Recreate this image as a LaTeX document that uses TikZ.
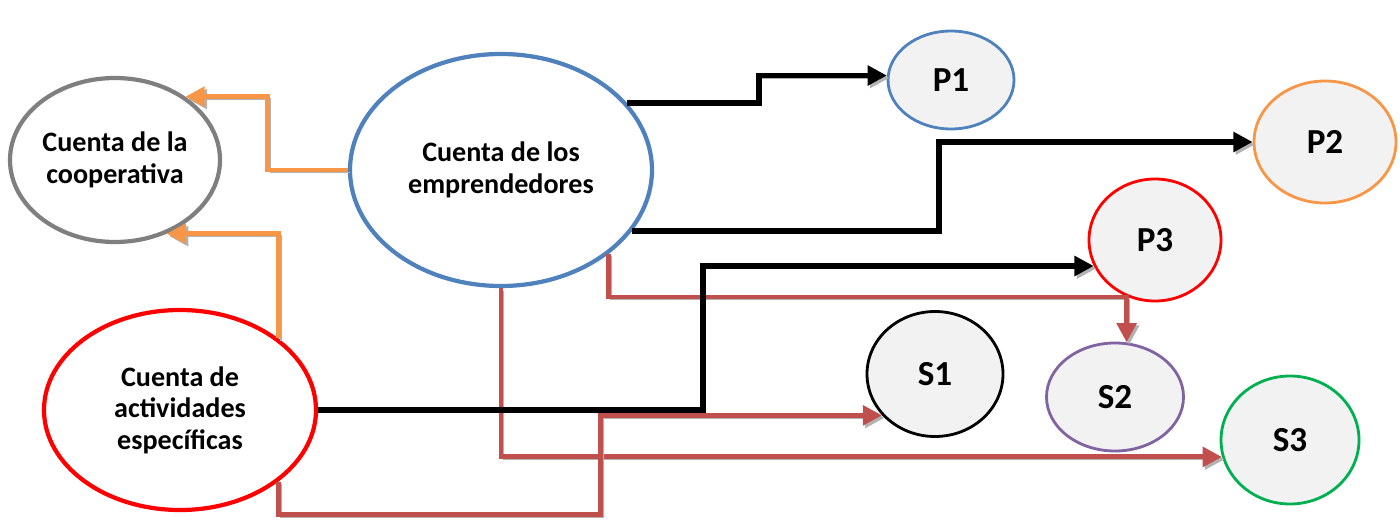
\documentclass[tikz,border=0pt]{standalone}
\usepackage{fontspec}
\setmainfont{Carlito}
\usetikzlibrary{shapes.geometric,arrows.meta}

\definecolor{cblue}{HTML}{4F81BD}
\definecolor{corange}{HTML}{F79646}
\definecolor{cbrown}{HTML}{C0504D}
\definecolor{cgray}{HTML}{7F7F7F}
\definecolor{cpurple}{HTML}{8064A2}
\definecolor{cgreen}{HTML}{00B050}
\definecolor{cfill}{HTML}{F2F2F2}

\begin{document}
\begin{tikzpicture}[
    cuenta/.style={ellipse, line width=1.2pt, fill=white, align=center, inner sep=0pt,
      font=\bfseries\fontsize{8}{9}\selectfont},
    proy/.style={ellipse, line width=0.8pt, fill=cfill, inner sep=0pt,
      font=\bfseries\fontsize{10}{12}\selectfont},
    sombra/.style={preaction={draw=black!30, transform canvas={shift={(0.7pt,-0.7pt)}}}},
    negro/.style={sombra, line width=1.6pt, -{Triangle[length=5.5pt,width=5.5pt]}},
    naranja/.style={sombra, draw=corange, line width=1.4pt, -{Triangle[length=5.5pt,width=5.5pt]}},
    rojo/.style={sombra, draw=cbrown, line width=1.4pt, -{Triangle[length=5.5pt,width=5.5pt]}},
  ]
  \useasboundingbox (0,0) rectangle (14,-5.2);

  % cuentas
  \node[cuenta, draw=cgray, minimum width=2.1cm, minimum height=1.64cm] (coop) at (1.15,-1.60) {Cuenta de la\\cooperativa};
  \node[cuenta, draw=cblue, minimum width=3.02cm, minimum height=2.32cm] (emp) at (5.01,-1.70) {Cuenta de los\\emprendedores};
  \node[cuenta, draw=red, minimum width=2.72cm, minimum height=2.0cm] (act) at (1.80,-4.10) {Cuenta de\\actividades\\específicas};

  % productos y servicios
  \node[proy, draw=cblue, minimum width=1.26cm, minimum height=0.98cm] (p1) at (9.51,-0.80) {P1};
  \node[proy, draw=corange, minimum width=1.42cm, minimum height=1.22cm] (p2) at (13.25,-1.42) {P2};
  \node[proy, draw=red, minimum width=1.32cm, minimum height=1.22cm] (p3) at (11.55,-2.40) {P3};
  \node[proy, draw=black, minimum width=1.36cm, minimum height=1.25cm] (s1) at (9.35,-3.74) {S1};
  \node[proy, draw=cpurple, minimum width=1.37cm, minimum height=1.08cm] (s2) at (11.15,-3.97) {S2};
  \node[proy, draw=cgreen, minimum width=1.38cm, minimum height=1.28cm] (s3) at (12.90,-4.40) {S3};

  % hacia la cooperativa
  \draw[naranja] (emp.west) -- ++(-0.8,0) |- (coop.42);
  \draw[naranja] (act.36) |- (coop.-55);

  % salidas
  \draw[rojo] (emp.-38) -- ++(0,-0.43) -| (s2.78);
  \draw[rojo] (emp.south) |- (s3.194);
  \draw[rojo] (act.-36) -- ++(0,-0.33) -- ++(3.22,0) |- (s1.218);
  \draw[negro] (emp.28) -- ++(1.32,0) |- (p1.176);
  \draw[negro] (emp.-25) -- ++(3.07,0) |- (p2);
  \draw[negro] (act.east) -- ++(3.85,0) |- (p3.203);
\end{tikzpicture}
\end{document}
